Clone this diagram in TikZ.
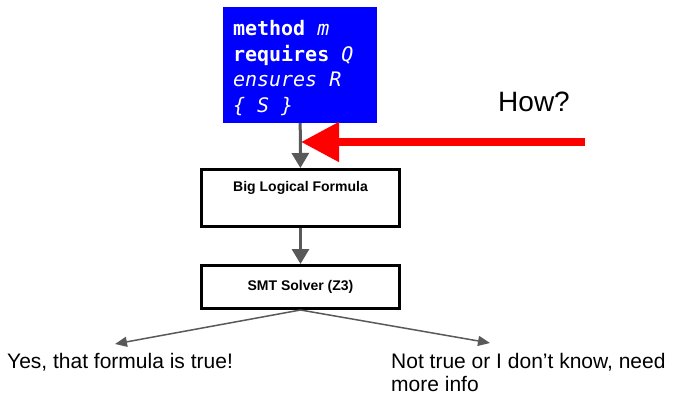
\documentclass[tikz,border=0pt]{standalone}
\usepackage{fontspec}
\setmainfont{Liberation Sans}
\setmonofont{DejaVu Sans Mono}
\usetikzlibrary{positioning,arrows.meta}
\definecolor{SpecBlue}{rgb}{0.0,0.0,1.0}
\definecolor{FlowGray}{rgb}{0.35,0.35,0.35}
\definecolor{HowRed}{rgb}{1.0,0.0,0.0}
\newcommand{\codegap}{\hspace*{0.602em}}

\begin{document}
\begin{tikzpicture}[x=1pt, y=-1pt,
  stage/.style={rectangle, draw=black, line width=3pt, minimum width=198pt, font=\fontsize{14pt}{16pt}\selectfont\bfseries},
  flow/.style={-{Triangle[length=15pt, width=17pt]}, draw=FlowGray, line width=3pt},
  answer/.style={-{Triangle[length=12pt, width=10pt]}, draw=FlowGray, line width=1.5pt},
  verdict/.style={inner sep=0pt, align=left, font=\fontsize{21pt}{23.5pt}\selectfont}]
  \useasboundingbox (0, 0) rectangle (676, 395);

  \node[rectangle, fill=SpecBlue, text=white, minimum width=154pt, minimum height=116pt, text width=134pt, align=left, inner xsep=10pt, font=\ttfamily\fontsize{20pt}{25.5pt}\selectfont] (spec) at (300, 65) {\rule{0pt}{21pt}\textbf{method}\codegap\textit{m}\\ \textbf{requires}\codegap\textit{Q}\\ \textit{ensures\codegap R}\\ \textit{\{\codegap S\codegap\}}};
  \node[stage, minimum height=57pt, text height=10pt, text depth=22pt] (formula) at (300.5, 198) {Big Logical Formula};
  \draw[flow] (spec) -- (formula);
  \node[stage, minimum height=43pt] (smt) at (300.5, 287) {SMT Solver (Z3)};
  \draw[flow] (formula) -- (smt);

  \node[font=\fontsize{28pt}{30pt}\selectfont] (how) at (534, 102) {How?};
  \coordinate (redstart) at (585, 142);
  \coordinate (redtip) at (301, 142);
  \draw[-{Triangle[length=38pt, width=38pt]}, draw=HowRed, fill=HowRed, line width=8pt] (redstart) -- (redtip);

  \node[verdict, anchor=base west] (yes) at (7, 368) {Yes, that formula is true!};
  \node[verdict, anchor=base west] (notsure) at (391, 391.5) {Not true or I don’t know, need\\more info};
  \coordinate (yestip) at (115, 344);
  \coordinate (nottip) at (490, 343);
  \draw[answer] (smt.south) -- (yestip);
  \draw[answer] (smt.south) -- (nottip);
\end{tikzpicture}
\end{document}
